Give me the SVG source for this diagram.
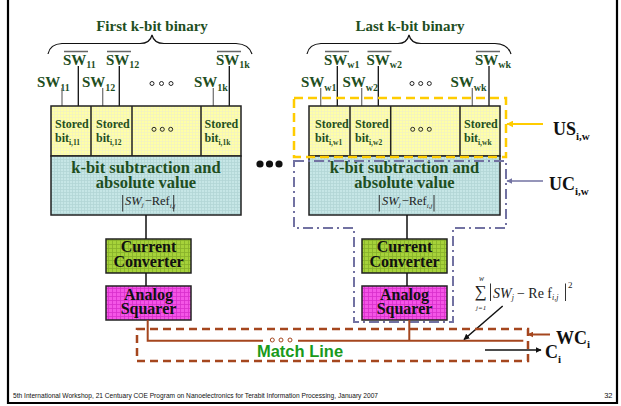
<svg xmlns="http://www.w3.org/2000/svg" width="621" height="406" viewBox="0 0 621 406">
<style>
.t{font-family:"Liberation Serif","Times New Roman",serif;font-weight:bold;fill:#1f4f1f}
.sw{font-size:15px}
.sub{font-size:10px}
.st{font-size:12px}
.ss{font-size:7.5px}
.big{font-size:16.5px;text-anchor:middle}
.ttl{font-size:15px;text-anchor:middle}
.blk{font-family:"Liberation Serif","Times New Roman",serif;font-weight:bold;fill:#111;font-size:16px;text-anchor:middle}
.lab{font-family:"Liberation Serif","Times New Roman",serif;font-weight:bold;fill:#111;font-size:18px}
.lsub{font-size:11px}
.m{font-family:"Liberation Serif","Times New Roman",serif;fill:#222}
.i{font-style:italic}
.ml{font-family:"Liberation Sans",Arial,sans-serif;font-weight:bold;fill:#1a9a1a;font-size:16.5px;text-anchor:middle}
.ft{font-family:"Liberation Sans",Arial,sans-serif;font-size:7.5px;fill:#111}
.brace{fill:none;stroke:#111;stroke-width:1.2}
.wg{stroke:#777;stroke-width:1.3}
.wb{stroke:#111;stroke-width:1.3}
.ov{stroke:#666;stroke-width:1.5}
.box{stroke:#222;stroke-width:1.5}
.conn{stroke:#111;stroke-width:1.5;fill:none}
.brn{stroke:#a5461e;stroke-width:2;fill:none}
.oc{fill:none;stroke:#111;stroke-width:0.9}
.bar{stroke:#333;stroke-width:1}
</style>
<defs>
<pattern id="pY" width="3" height="3" patternUnits="userSpaceOnUse"><rect width="3" height="3" fill="#ffffa6"/><path d="M0 0.5H3M0.5 0V3" stroke="#f2f2c0" stroke-width="0.8"/></pattern>
<pattern id="pB" width="3" height="3" patternUnits="userSpaceOnUse"><rect width="3" height="3" fill="#c6e6e6"/><path d="M0 0.5H3M0.5 0V3" stroke="#b2d6d6" stroke-width="0.8"/></pattern>
<pattern id="pG" width="4" height="4" patternUnits="userSpaceOnUse"><rect width="4" height="4" fill="#a6d23a"/><path d="M0 0.5H4M0.5 0V4" stroke="#86b02a" stroke-width="0.8"/></pattern>
<pattern id="pM" width="4" height="4" patternUnits="userSpaceOnUse"><rect width="4" height="4" fill="#f455e6"/><path d="M0 0.5H4M0.5 0V4" stroke="#d82ecb" stroke-width="0.8"/></pattern>
<marker id="aK" viewBox="0 0 10 10" refX="9" refY="5" markerWidth="6" markerHeight="6" orient="auto" markerUnits="userSpaceOnUse"><path d="M0 0L10 5L0 10z" fill="#111"/></marker>
<marker id="aBr" viewBox="0 0 10 10" refX="9" refY="5" markerWidth="6" markerHeight="6" orient="auto" markerUnits="userSpaceOnUse"><path d="M0 0L10 5L0 10z" fill="#a5461e"/></marker>
<marker id="aY" viewBox="0 0 10 10" refX="9" refY="5" markerWidth="7" markerHeight="7" orient="auto" markerUnits="userSpaceOnUse"><path d="M0 0L10 5L0 10z" fill="#ffcc00"/></marker>
<marker id="aP" viewBox="0 0 10 10" refX="9" refY="5" markerWidth="6" markerHeight="6" orient="auto" markerUnits="userSpaceOnUse"><path d="M0 0L10 5L0 10z" fill="#7272a2"/></marker>
</defs>
<rect width="621" height="406" fill="#fff"/>

<g id="frame" stroke="#000" fill="none">
<path d="M8 0V403H617V0" stroke-width="2.2"/>
</g>

<!-- FIRST BLOCK -->
<g id="title-first"><text class="t ttl" x="152" y="31">First k-bit binary</text>
<path class="brace" d="M48 54Q50 44 62 43.5H140Q150 43.5 152 35Q154 43.5 164 43.5H236Q249 44 252 54"/></g>
<g id="sw-first">
<text class="t sw" x="63" y="65">SW<tspan class="sub" dy="3">11</tspan></text>
<text class="t sw" x="106" y="65">SW<tspan class="sub" dy="3">12</tspan></text>
<text class="t sw" x="216" y="65">SW<tspan class="sub" dy="3">1k</tspan></text>
<path class="ov" d="M64 51.5H88M107 51.5H131M217 51.5H241"/>
<text class="t sw" x="37" y="87">SW<tspan class="sub" dy="4">11</tspan></text>
<text class="t sw" x="82" y="87">SW<tspan class="sub" dy="4">12</tspan></text>
<text class="t sw" x="194" y="87">SW<tspan class="sub" dy="4">1k</tspan></text>
<g class="oc"><circle cx="152" cy="83.5" r="2"/><circle cx="161.5" cy="83.5" r="2"/><circle cx="171" cy="83.5" r="2"/></g>
<path class="wg" d="M62 88V106M102.7 88V106M213.3 88V106"/>
<path class="wb" d="M78.3 66V106M119.3 66V106M229.3 66V106"/>
</g>
<g id="stored-first">
<rect class="box" x="51" y="106" width="190" height="50" fill="url(#pY)"/>
<path class="box" d="M91 106V156M132 106V156M201 106V156"/>
<text class="t st" x="55" y="127.5">Stored</text><text class="t st" x="55" y="142">bit<tspan class="ss" dy="3">i,11</tspan></text>
<text class="t st" x="96" y="127.5">Stored</text><text class="t st" x="96" y="142">bit<tspan class="ss" dy="3">i,12</tspan></text>
<text class="t st" x="204.5" y="127.5">Stored</text><text class="t st" x="204.5" y="142">bit<tspan class="ss" dy="3">i,1k</tspan></text>
<g class="oc"><circle cx="154" cy="129.3" r="2"/><circle cx="162.3" cy="129.3" r="2"/><circle cx="170.7" cy="129.3" r="2"/></g>
</g>
<g id="abs-first">
<rect class="box" x="51" y="156" width="190" height="59" fill="url(#pB)"/>
<text class="t big" x="146" y="172.5">k-bit subtraction and</text>
<text class="t big" x="146" y="187.5">absolute value</text>
<path class="bar" d="M122.7 195V211.5M173.7 195V211.5"/>
<text class="m" x="125" y="205" font-size="12.5"><tspan class="i">SW</tspan><tspan class="i" font-size="7" dy="2">j</tspan><tspan dy="-2" dx="1">−Ref</tspan><tspan font-size="7" dy="2.5" class="i">i,j</tspan></text>
</g>
<g id="cc-first">
<rect class="box" x="106" y="239" width="85" height="34" fill="url(#pG)"/>
<text class="blk" x="148.5" y="252">Current</text><text class="blk" x="148.5" y="267">Converter</text>
</g>
<g id="sq-first">
<rect class="box" x="106" y="286" width="85" height="34" fill="url(#pM)"/>
<text class="blk" x="148.5" y="299.5">Analog</text><text class="blk" x="148.5" y="314">Squarer</text>
</g>

<!-- LAST BLOCK -->
<g id="title-last"><text class="t ttl" x="410" y="31">Last k-bit binary</text>
<path class="brace" d="M307 54Q309 44 321 43.5H398Q407 43.5 409 35Q411 43.5 421 43.5H495Q508 44 511 54"/></g>
<g id="sw-last">
<text class="t sw" x="324" y="65">SW<tspan class="sub" dy="3">w1</tspan></text>
<text class="t sw" x="366.5" y="65">SW<tspan class="sub" dy="3">w2</tspan></text>
<text class="t sw" x="475" y="65">SW<tspan class="sub" dy="3">wk</tspan></text>
<path class="ov" d="M325 51.5H349M367.5 51.5H391.5M476 51.5H500"/>
<text class="t sw" x="301" y="87">SW<tspan class="sub" dy="4">w1</tspan></text>
<text class="t sw" x="342.5" y="87">SW<tspan class="sub" dy="4">w2</tspan></text>
<text class="t sw" x="450.5" y="87">SW<tspan class="sub" dy="4">wk</tspan></text>
<g class="oc"><circle cx="412" cy="83.5" r="2"/><circle cx="420.7" cy="83.5" r="2"/><circle cx="429.3" cy="83.5" r="2"/></g>
<path class="wg" d="M320.7 88V106M361.7 88V106M472.3 88V106"/>
<path class="wb" d="M337.3 66V106M378.3 66V106M489 66V106"/>
</g>
<g id="stored-last">
<rect class="box" x="309" y="106" width="191" height="50" fill="url(#pY)"/>
<path class="box" d="M350 106V156M390.7 106V156M460 106V156"/>
<text class="t st" x="315" y="127.5">Stored</text><text class="t st" x="315" y="142">bit<tspan class="ss" dy="3">i,w1</tspan></text>
<text class="t st" x="355" y="127.5">Stored</text><text class="t st" x="355" y="142">bit<tspan class="ss" dy="3">i,w2</tspan></text>
<text class="t st" x="464" y="127.5">Stored</text><text class="t st" x="464" y="142">bit<tspan class="ss" dy="3">i,wk</tspan></text>
<g class="oc"><circle cx="412.7" cy="129.3" r="2"/><circle cx="420.7" cy="129.3" r="2"/><circle cx="429.3" cy="129.3" r="2"/></g>
</g>
<g id="abs-last">
<rect class="box" x="309" y="156" width="191" height="59" fill="url(#pB)"/>
<text class="t big" x="404.5" y="172.5">k-bit subtraction and</text>
<text class="t big" x="404.5" y="187.5">absolute value</text>
<path class="bar" d="M379.3 195V211.5M434 195V211.5"/>
<text class="m" x="382" y="205" font-size="12.5"><tspan class="i">SW</tspan><tspan class="i" font-size="7" dy="2">j</tspan><tspan dy="-2" dx="1">−Ref</tspan><tspan font-size="7" dy="2.5" class="i">i,j</tspan></text>
</g>
<g id="cc-last">
<rect class="box" x="362" y="239" width="85" height="34" fill="url(#pG)"/>
<text class="blk" x="404.5" y="252">Current</text><text class="blk" x="404.5" y="267">Converter</text>
</g>
<g id="sq-last">
<rect class="box" x="362" y="286" width="85" height="34" fill="url(#pM)"/>
<text class="blk" x="404.5" y="299.5">Analog</text><text class="blk" x="404.5" y="314">Squarer</text>
</g>

<g id="dots" fill="#111"><circle cx="260" cy="164" r="3.6"/><circle cx="269.5" cy="164" r="3.6"/><circle cx="279" cy="164" r="3.6"/></g>

<!-- grouping boxes -->
<g id="us-box">
<rect x="294" y="98" width="212" height="59" fill="none" stroke="#ffcc00" stroke-width="2.5" stroke-dasharray="9,5"/>
<line x1="543" y1="124" x2="507" y2="124" stroke="#ffcc00" stroke-width="2" marker-end="url(#aY)"/>
<text class="lab" x="553" y="135">US<tspan class="lsub" dy="5">i,w</tspan></text>
</g>
<g id="uc-box">
<path d="M294 161H506V228H453V322H354V228H294Z" fill="none" stroke="#7272a2" stroke-width="2" stroke-dasharray="10,4,2,4"/>
<line x1="543" y1="181" x2="507" y2="181" stroke="#7272a2" stroke-width="1.5" marker-end="url(#aP)"/>
<text class="lab" x="549" y="190">UC<tspan class="lsub" dy="5">i,w</tspan></text>
</g>

<g id="connectors">
<path class="conn" d="M146 215V239M146 273V286M407 215V239M407 273V286"/>
<path class="brn" d="M147.7 320V340.7H263M298 340.7H523.3M409.3 320V340.7"/>
<line x1="502.7" y1="306" x2="464" y2="339.5" stroke="#111" stroke-width="1.5" marker-end="url(#aK)"/>
<line x1="550" y1="334.5" x2="528" y2="334.5" stroke="#a5461e" stroke-width="2" marker-end="url(#aBr)"/>
<line x1="485" y1="350" x2="541" y2="350" stroke="#111" stroke-width="1.5" marker-end="url(#aK)"/>
</g>

<g id="match-line">
<rect x="137" y="329" width="391" height="32" fill="none" stroke="#a5461e" stroke-width="2.5" stroke-dasharray="8,5"/>
<g fill="none" stroke="#a5461e" stroke-width="1"><circle cx="272.3" cy="340" r="2"/><circle cx="281" cy="340" r="2"/><circle cx="290" cy="340" r="2"/></g>
<text class="ml" x="300" y="357">Match Line</text>
</g>

<g id="sum-label">
<text class="m" x="474.5" y="297" font-size="17">∑</text>
<text class="m i" x="479" y="281" font-size="7.5">w</text>
<text class="m i" x="476" y="310" font-size="7">j=1</text>
<path class="bar" d="M490.5 283.5V301M565.5 283.5V301"/>
<text class="m" x="493" y="297.5" font-size="14"><tspan class="i">SW</tspan><tspan class="i" font-size="8" dy="2">j</tspan><tspan dy="-2" dx="3">− Re f</tspan><tspan class="i" font-size="8" dy="2.5">i,j</tspan></text>
<text class="m" x="568" y="288" font-size="9">2</text>
</g>
<g id="wc-label"><text class="lab" x="556" y="344" font-size="17">WC<tspan class="lsub" dy="4">i</tspan></text></g>
<g id="c-label"><text class="lab" x="545" y="358" font-size="17">C<tspan class="lsub" dy="5">i</tspan></text></g>

<g id="footer">
<text class="ft" x="13" y="398" textLength="365" lengthAdjust="spacingAndGlyphs">5th International Workshop, 21 Centuary COE Program on Nanoelectronics for Terabit Information Processing, January 2007</text>
<text class="ft" x="612.5" y="398" text-anchor="end">32</text>
</g>
</svg>
